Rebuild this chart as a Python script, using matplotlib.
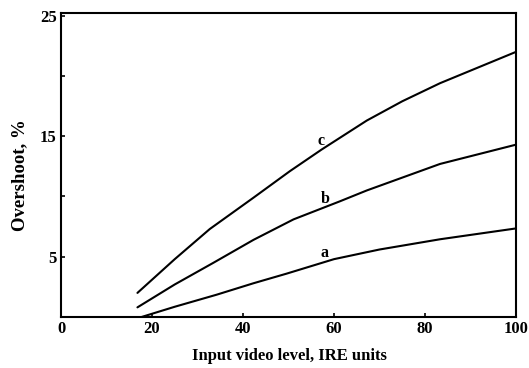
import matplotlib
matplotlib.use("Agg")
import matplotlib.pyplot as plt

# data
a_x = [17.7, 25, 34.2, 42.3, 49.6, 60, 70, 83.3, 100]
a_y = [0.0, 0.85, 1.85, 2.8, 3.6, 4.8, 5.6, 6.45, 7.35]
b_x = [16.8, 25, 33.5, 42.3, 51.1, 61.3, 67.2, 83.3, 100]
b_y = [0.8, 2.7, 4.5, 6.4, 8.1, 9.6, 10.5, 12.7, 14.3]
c_x = [16.8, 25, 32.7, 42.3, 50.3, 57.3, 67.2, 75, 83.3, 100]
c_y = [2.0, 4.8, 7.3, 9.9, 12.1, 13.9, 16.3, 17.9, 19.4, 22.0]

curve_labels = ["a", "b", "c"]
label_pos = [(58.0, 5.3), (58.0, 9.8), (57.1, 14.6)]

x_ticks = [0, 20, 40, 60, 80, 100]
y_ticks = [5, 10, 15, 20, 25]
y_ticklabels = ["5", "", "15", "", "25"]

plt.rcParams['font.family'] = ['Liberation Serif', 'DejaVu Serif']
plt.rcParams['font.weight'] = 'bold'

fig = plt.figure(figsize=(5.29, 3.68), dpi=100)
ax = fig.add_axes([61/529, 1 - 317/368, (516-61)/529, (317-12.7)/368])

for xs, ys in [(a_x, a_y), (b_x, b_y), (c_x, c_y)]:
    ax.plot(xs, ys, color='black', lw=1.5, solid_capstyle='round', solid_joinstyle='round')

for lab, (lx, ly) in zip(curve_labels, label_pos):
    ax.text(lx, ly, lab, ha='center', va='center', fontsize=11.5, fontweight='bold')

ax.set_xlim(0, 100)
ax.set_ylim(0, 25.25)
ax.set_xticks(x_ticks)
ax.set_xticklabels([str(t) for t in x_ticks], fontsize=12, fontweight='bold')
ax.set_yticks(y_ticks)
ax.set_yticklabels(y_ticklabels, fontsize=12, fontweight='bold')
ax.tick_params(direction='in', length=3, width=1.2, top=False, right=False, pad=3)
for s in ax.spines.values():
    s.set_linewidth(1.5)

ax.set_xlabel("Input video level, IRE units", fontsize=12, fontweight='bold')
ax.xaxis.set_label_coords(0.503, -0.103)
ax.set_ylabel("Overshoot, %", fontsize=13.5, fontweight='bold')
ax.yaxis.set_label_coords(-0.071, 0.467)

fig.savefig("out.png", dpi=100)
